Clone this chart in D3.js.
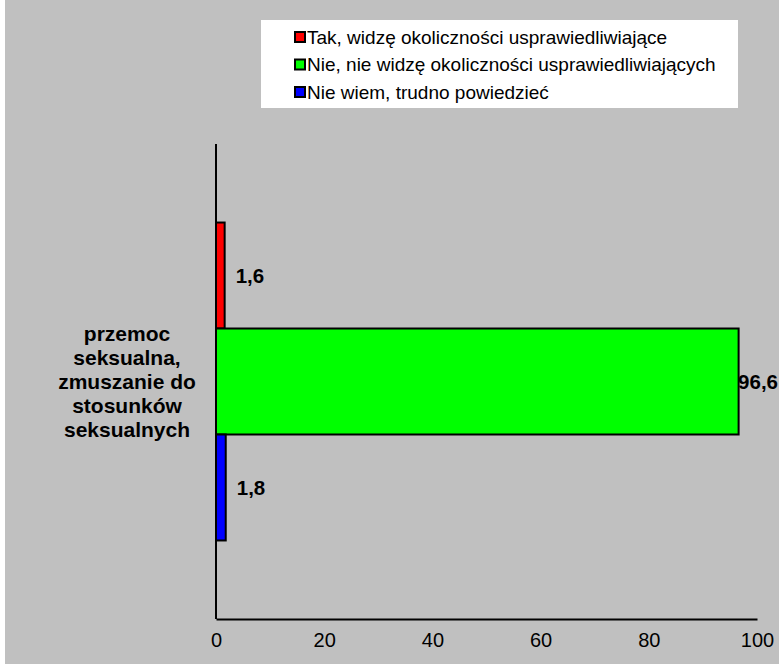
<!DOCTYPE html>
<html>
<head>
<meta charset="utf-8">
<script src="https://cdn.jsdelivr.net/npm/d3@7"></script>
<style>
  body { margin: 0; background: #fff; }
  svg { display: block; font-family: Arial, "Liberation Sans", sans-serif; }
</style>
</head>
<body>
<div id="chart"></div>
<script>
// data
const categories = ["przemoc seksualna, zmuszanie do stosunków seksualnych"];
const categoryLines = ["przemoc", "seksualna,", "zmuszanie do", "stosunków", "seksualnych"];
const seriesNames = [
  "Tak, widzę okoliczności usprawiedliwiające",
  "Nie, nie widzę okoliczności usprawiedliwiających",
  "Nie wiem, trudno powiedzieć"
];
const seriesValues = [1.6, 96.6, 1.8];
const seriesColors = ["#ff0000", "#00ff00", "#0000ff"];
const xTicks = [0, 20, 40, 60, 80, 100];

const width = 779, height = 664;
const margin = {top: 144, left: 216, right: 22, bottom: 45};

const svg = d3.select("#chart")
    .append("svg")
    .attr("width", width)
    .attr("height", height);

// grey background (thin white strip on the left)
svg.append("rect")
    .attr("x", 5).attr("y", 0)
    .attr("width", width - 5).attr("height", height)
    .attr("fill", "#c0c0c0");

// scales
const xScale = d3.scaleLinear()
    .domain([0, 100])
    .range([margin.left, width - margin.right]);

const yScale = d3.scaleBand()
    .domain(categories)
    .range([margin.top, height - margin.bottom])
    .paddingInner(0)
    .paddingOuter(0.247);

const ySub = d3.scaleBand()
    .domain(seriesNames)
    .range([0, yScale.bandwidth()]);

// x axis (line + labels, no tick marks)
const xAxis = svg.append("g")
    .attr("transform", `translate(0,${height - margin.bottom})`)
    .call(d3.axisBottom(xScale).tickValues(xTicks).tickSize(0).tickPadding(14));
xAxis.select(".domain").attr("stroke", "#000").attr("stroke-width", 2);
xAxis.selectAll("text")
    .attr("font-size", 20)
    .attr("font-family", "Arial, 'Liberation Sans', sans-serif")
    .attr("fill", "#000");

// y axis line
svg.append("line")
    .attr("x1", margin.left).attr("x2", margin.left)
    .attr("y1", margin.top).attr("y2", height - margin.bottom)
    .attr("stroke", "#000").attr("stroke-width", 2);

// bars
const rows = seriesNames.map((s, i) => ({name: s, value: seriesValues[i], color: seriesColors[i]}));
const cat = categories[0];

svg.selectAll("rect.bar")
    .data(rows)
    .enter()
    .append("rect")
    .attr("class", "bar")
    .attr("x", xScale(0))
    .attr("y", d => yScale(cat) + ySub(d.name))
    .attr("width", d => xScale(d.value) - xScale(0))
    .attr("height", ySub.bandwidth())
    .attr("fill", d => d.color)
    .attr("stroke", "#000")
    .attr("stroke-width", 2);

// value labels
svg.selectAll("text.val")
    .data(rows)
    .enter()
    .append("text")
    .attr("class", "val")
    .attr("y", d => yScale(cat) + ySub(d.name) + ySub.bandwidth() / 2)
    .attr("dy", "0.35em")
    .attr("font-size", 20.5)
    .attr("font-weight", "bold")
    .text(d => d.value.toFixed(1).replace(".", ","))
    .attr("x", function(d) {
      const w = this.getComputedTextLength();
      return Math.min(xScale(d.value) + 11, width - w - 1);
    });

// category label
const catLabel = svg.append("text")
    .attr("x", 127)
    .attr("y", yScale(cat) + yScale.bandwidth() / 2 - 2 * 24)
    .attr("text-anchor", "middle")
    .attr("font-size", 21)
    .attr("font-weight", "bold");
catLabel.selectAll("tspan")
    .data(categoryLines)
    .enter()
    .append("tspan")
    .attr("x", 127)
    .attr("dy", (d, i) => i === 0 ? "0.35em" : 24)
    .text(d => d);

// legend
const legend = svg.append("g");
legend.append("rect")
    .attr("x", 261).attr("y", 20)
    .attr("width", 477).attr("height", 88)
    .attr("fill", "#fff");

const items = legend.selectAll("g.item")
    .data(rows)
    .enter()
    .append("g")
    .attr("class", "item")
    .attr("transform", (d, i) => `translate(295,${37 + i * 27.5})`);

items.append("rect")
    .attr("x", 0).attr("y", -5)
    .attr("width", 10).attr("height", 10)
    .attr("fill", d => d.color)
    .attr("stroke", "#000")
    .attr("stroke-width", 2);

items.append("text")
    .attr("x", 12)
    .attr("dy", "0.35em")
    .attr("font-size", 19)
    .text(d => d.name);
</script>
</body>
</html>
